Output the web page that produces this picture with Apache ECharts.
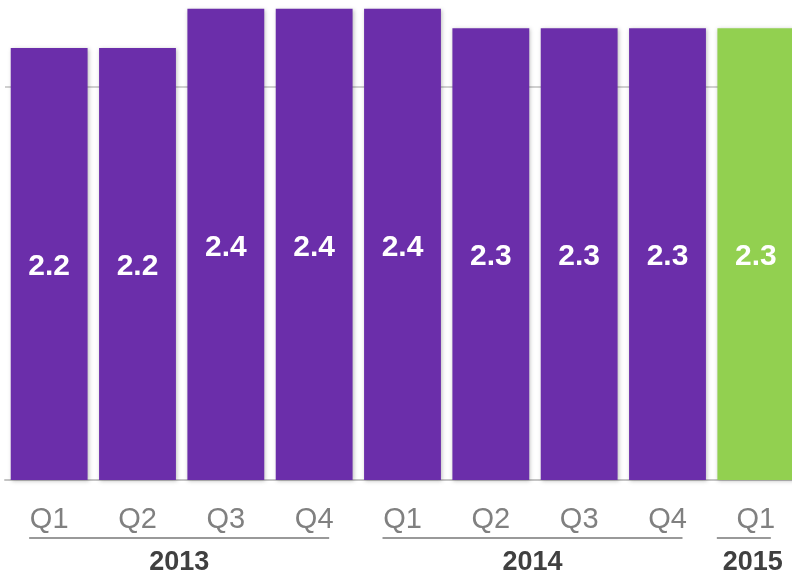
<!DOCTYPE html>
<html><head><meta charset="utf-8">
<script src="https://cdn.jsdelivr.net/npm/echarts@6/dist/echarts.min.js"></script>
<style>html,body{margin:0;padding:0;background:#fff}#c{width:792px;height:575px}</style>
</head><body><div id="c"></div>
<script>
const categories = ['Q1','Q2','Q3','Q4','Q1','Q2','Q3','Q4','Q1'];
const values = [2.2, 2.2, 2.4, 2.4, 2.4, 2.3, 2.3, 2.3, 2.3];
const highlighted = [false, false, false, false, false, false, false, false, true];
const yearGroups = [
  {label: '2013', start: 0, end: 3},
  {label: '2014', start: 4, end: 7},
  {label: '2015', start: 8, end: 8}
];

const purple = '#6B2EAA', green = '#92D050';
const chart = echarts.init(document.getElementById('c'), null, {renderer: 'canvas'});
chart.setOption({
  animation: false,
  grid: {left: 5, right: -8, top: 0, bottom: 95, outerBoundsMode: 'none', containLabel: false},
  xAxis: {
    type: 'category', data: categories,
    axisLine: {lineStyle: {color: '#c4c4c4', width: 2}},
    axisTick: {show: false},
    axisLabel: {color: '#808080', fontSize: 29, fontFamily: 'Liberation Sans', margin: 25}
  },
  yAxis: {
    type: 'value', min: 0, max: 2.444, interval: 2,
    axisLine: {show: false}, axisTick: {show: false}, axisLabel: {show: false},
    splitLine: {show: true, lineStyle: {color: ['rgba(0,0,0,0)', '#d0d0d0', 'rgba(0,0,0,0)'], width: 2}}
  },
  series: [
    {
      type: 'bar', z: 2, barWidth: '87%',
      data: values.map((v, i) => ({value: v, itemStyle: {color: highlighted[i] ? green : purple}})),
      itemStyle: {shadowBlur: 4, shadowColor: 'rgba(0,0,0,0.25)', shadowOffsetX: 1, shadowOffsetY: 1},
      label: {show: true, position: 'inside', offset: [0, 3], color: '#fff', fontSize: 30, fontWeight: 'bold', fontFamily: 'Liberation Sans',
        formatter: p => p.value.toFixed(1)}
    },
    {
      type: 'custom', clip: false, z: 3,
      data: yearGroups.map(g => [g.start, g.end, g.label]),
      renderItem: function (params, api) {
        const s = api.coord([api.value(0), 0]);
        const e = api.coord([api.value(1), 0]);
        const single = api.value(0) === api.value(1);
        const x1 = s[0] - (single ? 39 : 20), x2 = Math.min(e[0] + 15, 795);
        const y = s[1] + 58;
        return {
          type: 'group',
          children: [
            {type: 'line', shape: {x1: x1, y1: y, x2: x2, y2: y}, style: {stroke: '#999', lineWidth: 2}},
            {type: 'text', style: {text: yearGroups[params.dataIndex].label, x: (x1 + x2) / 2 + (single ? 9 : 0), y: y + 25,
              align: 'center', verticalAlign: 'middle', fill: '#404040', font: 'bold 27px "Liberation Sans"'}}
          ]
        };
      }
    }
  ]
});
</script></body></html>
